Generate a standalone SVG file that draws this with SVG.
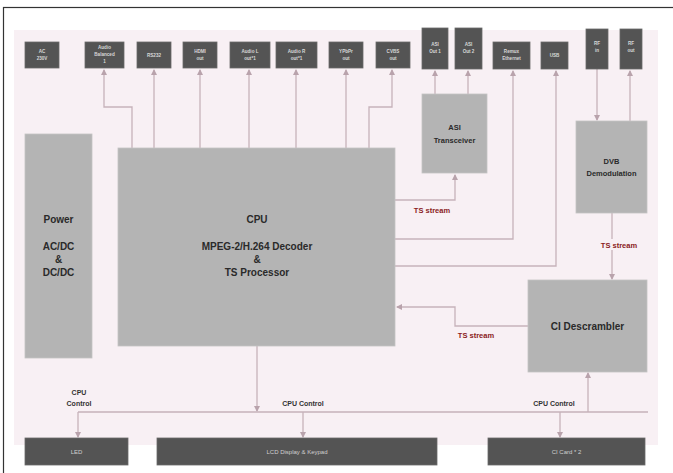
<svg xmlns="http://www.w3.org/2000/svg" width="673" height="473" viewBox="0 0 673 473">
<defs>
<style>
.dk{fill:#545454;stroke:#6a6a6a;stroke-width:0.8}
.gy{fill:#b4b4b4;stroke:#c4c4c4;stroke-width:0.8}
.tl{font-family:"Liberation Sans",Arial,sans-serif;font-size:4.6px;fill:#d8d8d8;text-anchor:middle;font-weight:bold}
.tb{font-family:"Liberation Sans",Arial,sans-serif;font-size:6px;fill:#d0d0d0;text-anchor:middle}
.tm{font-family:"Liberation Sans",Arial,sans-serif;font-size:10px;fill:#2a2a2a;text-anchor:middle;font-weight:bold}
.ts{font-family:"Liberation Sans",Arial,sans-serif;font-size:7.5px;fill:#2a2a2a;text-anchor:middle;font-weight:bold}
.red{font-family:"Liberation Sans",Arial,sans-serif;font-size:7.5px;fill:#8a1c1c;text-anchor:middle;font-weight:bold}
.cc{font-family:"Liberation Sans",Arial,sans-serif;font-size:7px;fill:#333;text-anchor:middle;font-weight:bold}
.ln{fill:none;stroke:#c6b2ba;stroke-width:1.3}
</style>
<marker id="ah" markerWidth="6" markerHeight="6" refX="5" refY="3" orient="auto" markerUnits="userSpaceOnUse">
<path d="M0,0 L6,3 L0,6 z" fill="#b9a3ac"/>
</marker>
</defs>
<rect x="0" y="0" width="673" height="473" fill="#ffffff"/>
<rect x="14" y="30" width="644" height="415" fill="#f8f0f4"/>
<rect x="3.5" y="7.5" width="680" height="480" fill="none" stroke="#333" stroke-width="1.2"/>

<g id="connectors">
<path class="ln" d="M132,148 V107 H104 V70" marker-end="url(#ah)"/>
<path class="ln" d="M154,148 V70" marker-end="url(#ah)"/>
<path class="ln" d="M200,148 V70" marker-end="url(#ah)"/>
<path class="ln" d="M249,148 V70" marker-end="url(#ah)"/>
<path class="ln" d="M296,148 V70" marker-end="url(#ah)"/>
<path class="ln" d="M346,148 V70" marker-end="url(#ah)"/>
<path class="ln" d="M369,148 V107 H392 V70" marker-end="url(#ah)"/>
<path class="ln" d="M435,94 V71" marker-end="url(#ah)"/>
<path class="ln" d="M468,94 V71" marker-end="url(#ah)"/>
<path class="ln" d="M395,200 H455 V175" marker-end="url(#ah)"/>
<path class="ln" d="M395,239 H513 V71" marker-end="url(#ah)"/>
<path class="ln" d="M395,266 H556 V71" marker-end="url(#ah)"/>
<path class="ln" d="M597,69 V120" marker-end="url(#ah)"/>
<path class="ln" d="M630,121 V71" marker-end="url(#ah)"/>
<path class="ln" d="M612,213 V279" marker-end="url(#ah)"/>
<path class="ln" d="M528,326 H455 V307 H397" marker-end="url(#ah)"/>
<path class="ln" d="M257,346 V411" marker-end="url(#ah)"/>
<path class="ln" d="M78,412 H648"/>
<path class="ln" d="M78,412 V437" marker-end="url(#ah)"/>
<path class="ln" d="M303,412 V437" marker-end="url(#ah)"/>
<path class="ln" d="M560,412 V437" marker-end="url(#ah)"/>
<path class="ln" d="M588,412 V373" marker-end="url(#ah)"/>
</g>

<g id="ac"><rect class="dk" x="25" y="42" width="34" height="26"/><text class="tl" x="42" y="53">AC</text><text class="tl" x="42" y="60">230V</text></g>
<g id="audio-bal"><rect class="dk" x="85" y="42" width="39" height="26"/><text class="tl" x="104.5" y="49">Audio</text><text class="tl" x="104.5" y="56">Balanced</text><text class="tl" x="104.5" y="63">1</text></g>
<g id="rs232"><rect class="dk" x="137" y="42" width="34" height="26"/><text class="tl" x="154" y="57">RS232</text></g>
<g id="hdmi"><rect class="dk" x="183" y="42" width="34" height="26"/><text class="tl" x="200" y="53">HDMI</text><text class="tl" x="200" y="60">out</text></g>
<g id="audio-l"><rect class="dk" x="230" y="42" width="40" height="26"/><text class="tl" x="250" y="53">Audio L</text><text class="tl" x="250" y="60">out*1</text></g>
<g id="audio-r"><rect class="dk" x="276" y="42" width="41" height="26"/><text class="tl" x="296.5" y="53">Audio R</text><text class="tl" x="296.5" y="60">out*1</text></g>
<g id="ypbpr"><rect class="dk" x="329" y="42" width="34" height="26"/><text class="tl" x="346" y="53">YPbPr</text><text class="tl" x="346" y="60">out</text></g>
<g id="cvbs"><rect class="dk" x="376" y="42" width="34" height="26"/><text class="tl" x="393" y="53">CVBS</text><text class="tl" x="393" y="60">out</text></g>
<g id="asi-out1"><rect class="dk" x="422" y="28" width="26" height="41"/><text class="tl" x="435" y="46">ASI</text><text class="tl" x="435" y="53">Out 1</text></g>
<g id="asi-out2"><rect class="dk" x="455" y="28" width="27" height="41"/><text class="tl" x="468.5" y="46">ASI</text><text class="tl" x="468.5" y="53">Out 2</text></g>
<g id="remux"><rect class="dk" x="493" y="42" width="37" height="27"/><text class="tl" x="511.5" y="53">Remux</text><text class="tl" x="511.5" y="60">Ethernet</text></g>
<g id="usb"><rect class="dk" x="541" y="42" width="27" height="27"/><text class="tl" x="554.5" y="57">USB</text></g>
<g id="rf-in"><rect class="dk" x="586" y="29" width="22" height="40"/><text class="tl" x="597" y="45">RF</text><text class="tl" x="597" y="52">in</text></g>
<g id="rf-out"><rect class="dk" x="620" y="29" width="22" height="40"/><text class="tl" x="631" y="45">RF</text><text class="tl" x="631" y="52">out</text></g>

<g id="power"><rect class="gy" x="25" y="134" width="67" height="224"/><text class="tm" x="58.5" y="223">Power</text><text class="tm" x="58.5" y="250">AC/DC</text><text class="tm" x="58.5" y="263">&amp;</text><text class="tm" x="58.5" y="276">DC/DC</text></g>
<g id="cpu"><rect class="gy" x="118" y="148" width="277" height="198"/><text class="tm" x="257" y="223">CPU</text><text class="tm" x="257" y="250">MPEG-2/H.264 Decoder</text><text class="tm" x="257" y="263">&amp;</text><text class="tm" x="257" y="276">TS Processor</text></g>
<g id="asi"><rect class="gy" x="422" y="94" width="65" height="79"/><text class="ts" x="454.5" y="130">ASI</text><text class="ts" x="454.5" y="143">Transceiver</text></g>
<g id="dvb"><rect class="gy" x="576" y="121" width="71" height="92"/><text class="ts" x="611.5" y="164">DVB</text><text class="ts" x="611.5" y="176">Demodulation</text></g>
<g id="ci-desc"><rect class="gy" x="528" y="280" width="119" height="92"/><text class="tm" x="587.5" y="330">CI Descrambler</text></g>

<g id="led"><rect class="dk" x="25" y="438" width="103" height="27"/><text class="tb" x="76.5" y="454">LED</text></g>
<g id="lcd"><rect class="dk" x="157" y="438" width="280" height="27"/><text class="tb" x="297" y="454">LCD Display &amp; Keypad</text></g>
<g id="ci-card"><rect class="dk" x="488" y="438" width="157" height="27"/><text class="tb" x="566.5" y="454">CI Card * 2</text></g>

<g id="labels">
<text class="red" x="432" y="213">TS stream</text>
<rect x="596" y="239" width="48" height="11" fill="#f8f0f4"/>
<text class="red" x="619" y="248">TS stream</text>
<text class="red" x="476" y="338">TS stream</text>
<text class="cc" x="79" y="395">CPU</text>
<text class="cc" x="79" y="406">Control</text>
<text class="cc" x="303" y="406">CPU Control</text>
<text class="cc" x="554" y="406">CPU Control</text>
</g>
</svg>
